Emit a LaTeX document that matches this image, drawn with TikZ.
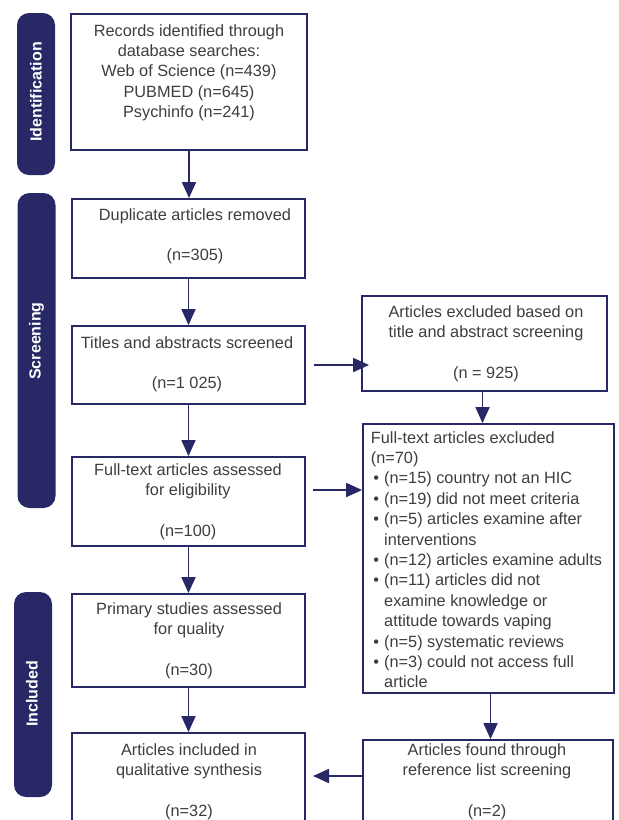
\documentclass[tikz,border=0pt]{standalone}
\usepackage{fontspec}
\setmainfont{Liberation Sans}
\usetikzlibrary{arrows.meta}
\definecolor{navy}{RGB}{40,40,102}
\definecolor{txt}{RGB}{62,62,62}
\begin{document}
\begin{tikzpicture}[x=1pt,y=-1pt,
  box/.style={draw=navy,line width=1.8pt,fill=white,inner sep=0pt},
  bar/.style={fill=navy,draw=none,rounded corners=12pt,inner sep=0pt,minimum width=38pt},
  barlabel/.style={text=white,font=\fontsize{16}{19}\selectfont\bfseries,rotate=90,inner sep=0pt},
  ctext/.style={anchor=north,align=center,inner sep=0pt,text=txt,font=\fontsize{16.3}{20.4}\selectfont},
  ltext/.style={anchor=north west,align=left,inner sep=0pt,text=txt,font=\fontsize{16.3}{20.4}\selectfont},
  arr/.style={draw=navy,line width=1.8pt,-{Triangle[length=16pt,width=14pt]}}]
\useasboundingbox (0,0) rectangle (619,820);
\clip (0,0) rectangle (619,820);
% side bars
\node[bar,minimum height=162pt] (barI) at (36,94) {};
\node[bar,minimum height=315pt] (barS) at (36.5,350.5) {};
\node[bar,minimum height=205pt] (barC) at (33,694.5) {};
\node[barlabel] (lI) at (36,92) {Identification};
\node[barlabel] (lS) at (36.5,341) {Screening};
\node[barlabel] (lC) at (32,694) {Included};
% left column boxes
\node[box,minimum width=236pt,minimum height=136pt] (b1) at (189,82) {};
\node[box,minimum width=233pt,minimum height=79pt] (b2) at (188.5,238.5) {};
\node[box,minimum width=233pt,minimum height=78pt] (b3) at (188.5,365) {};
\node[box,minimum width=233pt,minimum height=89pt] (b4) at (188.5,501.5) {};
\node[box,minimum width=233pt,minimum height=93pt] (b5) at (188.5,640.5) {};
\node[box,minimum width=233pt,minimum height=107pt] (b6) at (188.5,786.5) {};
% right column boxes
\node[box,minimum width=245pt,minimum height=95pt] (r1) at (484.5,343.5) {};
\node[box,minimum width=251pt,minimum height=269pt] (r2) at (488.5,558.5) {};
\node[box,minimum width=250pt,minimum height=100pt] (r3) at (488,790) {};
% texts
\node[ctext] (t1) at (189,24) {Records identified through\\database searches:\\Web of Science (n=439)\\PUBMED (n=645)\\Psychinfo (n=241)};
\node[ctext] (t2) at (195,208) {Duplicate articles removed\\[20.4pt](n=305)};
\node[ctext] (t3) at (187,336) {Titles and abstracts screened\\[20.4pt](n=1 025)};
\node[ctext] (t4) at (188,463) {Full-text articles assessed\\for eligibility\\[20.4pt](n=100)};
\node[ctext] (t5) at (189,602) {Primary studies assessed\\for quality\\[20.4pt](n=30)};
\node[ctext] (t6) at (189,743) {Articles included in\\qualitative synthesis\\[20.4pt](n=32)};
\node[ctext] (u1) at (486,305) {Articles excluded based on\\title and abstract screening\\[20.4pt](n = 925)};
\node[ltext] (u2) at (370.7,431) {Full-text articles excluded\\(n=70)\\
\makebox[13.3pt][l]{\hspace{2.5pt}•}(n=15) country not an HIC\\
\makebox[13.3pt][l]{\hspace{2.5pt}•}(n=19) did not meet criteria\\
\makebox[13.3pt][l]{\hspace{2.5pt}•}(n=5) articles examine after\\
\hspace*{13.3pt}interventions\\
\makebox[13.3pt][l]{\hspace{2.5pt}•}(n=12) articles examine adults\\
\makebox[13.3pt][l]{\hspace{2.5pt}•}(n=11) articles did not\\
\hspace*{13.3pt}examine knowledge or\\
\hspace*{13.3pt}attitude towards vaping\\
\makebox[13.3pt][l]{\hspace{2.5pt}•}(n=5) systematic reviews\\
\makebox[13.3pt][l]{\hspace{2.5pt}•}(n=3) could not access full\\
\hspace*{13.3pt}article};
\node[ctext] (u3) at (487,743) {Articles found through\\reference list screening\\[20.4pt](n=2)};
% connectors
\coordinate (a4) at (313,490);
\coordinate (a6) at (313,776);
\draw[arr] (b1.south) -- (b1.south |- b2.north);
\draw[arr] (b2.south) -- (b2.south |- b3.north);
\draw[arr] (b3.south) -- (b3.south |- b4.north);
\draw[arr] (b4.south) -- (b4.south |- b5.north);
\draw[arr] (b5.south) -- (b5.south |- b6.north);
\draw[arr] ([xshift=8pt]b3.east) -- ([xshift=8pt]b3.east -| r1.west);
\draw[arr] (a4) -- (a4 -| r2.west);
\draw[arr] ([xshift=-2pt]r1.south) -- ([xshift=-2pt]r1.south |- r2.north);
\draw[arr] ([xshift=2pt]r2.south) -- ([xshift=2pt]r2.south |- r3.north);
\draw[arr] (a6 -| r3.west) -- (a6);
\end{tikzpicture}
\end{document}
